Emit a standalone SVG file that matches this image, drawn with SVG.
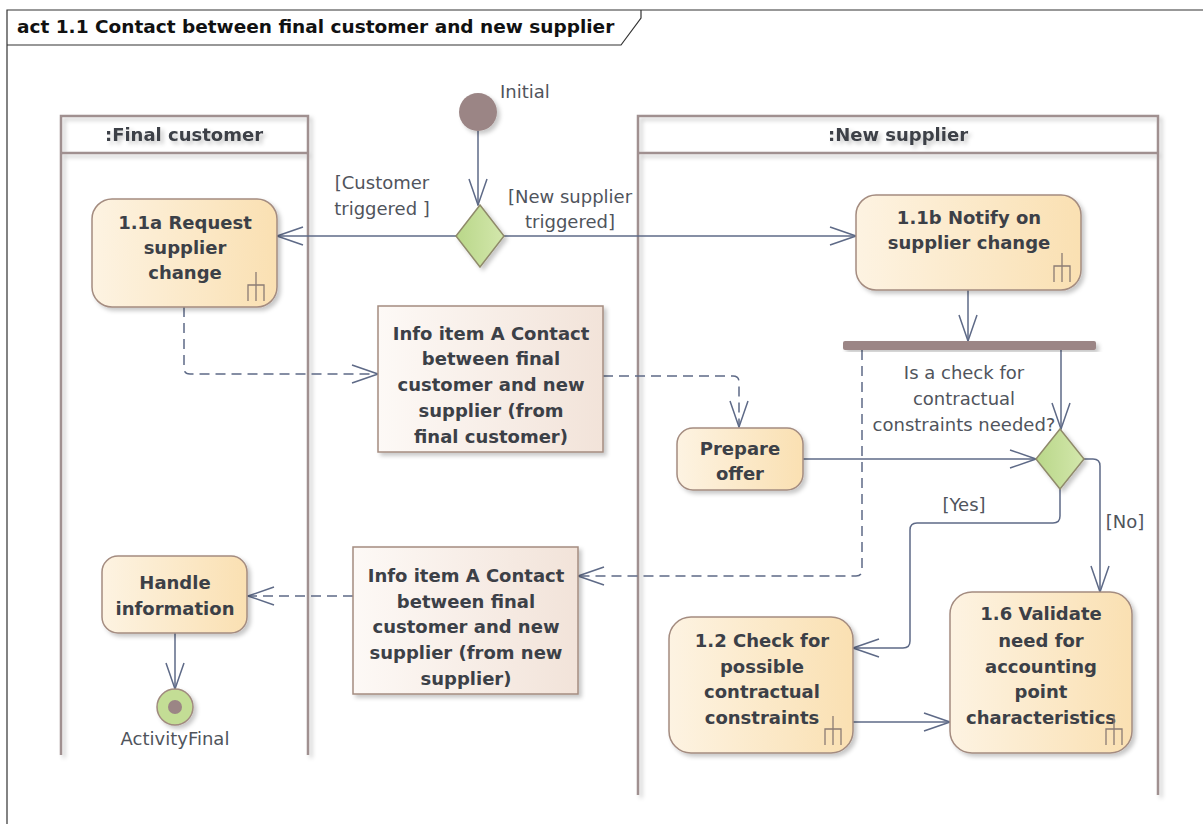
<svg xmlns="http://www.w3.org/2000/svg" width="1203" height="824" viewBox="0 0 1203 824">
<style>
.frame{fill:none;stroke:#333;stroke-width:1.2}
.lane{fill:none;stroke:#A09090;stroke-width:2.5}
.act{fill:url(#gAct);stroke:#A48C80;stroke-width:1.5}
.obj{fill:url(#gObj);stroke:#A48C80;stroke-width:1.5}
.dec{fill:url(#gDec);stroke:#8F8A6A;stroke-width:1.5}
.b{font-family:"DejaVu Sans",sans-serif;font-weight:bold;font-size:18px;fill:#3C4047;text-anchor:middle}
.l{font-family:"DejaVu Sans",sans-serif;font-size:18px;fill:#50545C;text-anchor:middle}
.c{fill:none;stroke:#5E6A87;stroke-width:1.5}
.d{stroke-dasharray:10 6}
.rake{fill:none;stroke:#8C7C74;stroke-width:1.3}
</style>
<defs>
<linearGradient id="gAct" x1="0" y1="0" x2="1" y2="0"><stop offset="0" stop-color="#FDF3E2"/><stop offset="1" stop-color="#FAE0B2"/></linearGradient>
<linearGradient id="gObj" x1="0" y1="0" x2="1" y2="0"><stop offset="0" stop-color="#FDF9F6"/><stop offset="1" stop-color="#F2E3D9"/></linearGradient>
<linearGradient id="gDec" x1="0" y1="0" x2="1" y2="0"><stop offset="0" stop-color="#B9D789"/><stop offset="1" stop-color="#D3E7AC"/></linearGradient>
<filter id="sh" x="-10%" y="-10%" width="130%" height="130%"><feDropShadow dx="3" dy="3" stdDeviation="2" flood-color="#000" flood-opacity="0.22"/></filter>
<marker id="ar" viewBox="0 0 28 20" refX="27" refY="10" markerWidth="28" markerHeight="20" markerUnits="userSpaceOnUse" orient="auto"><path d="M1,1 L27,10 L1,19" fill="none" stroke="#5E6A87" stroke-width="1.5"/></marker>
<g id="rk"><path d="M0,0 V29 M-8,29 V13 H8 V29"/></g>
</defs>

<path class="frame" d="M7,824 V10 H1203"/>
<path class="frame" d="M7,45 H621 L641,18 V10"/>
<text x="17" y="33" font-family="DejaVu Sans,sans-serif" font-weight="bold" font-size="18.5" fill="#111">act 1.1 Contact between final customer and new supplier</text>

<g id="lane-final-customer" filter="url(#sh)">
<path class="lane" d="M61,755 V116 H308 V755 M61,153 H308"/>
<text class="b" x="184" y="141">:Final customer</text>
</g>
<g id="lane-new-supplier" filter="url(#sh)">
<path class="lane" d="M638,795 V116 H1158 V795 M638,153 H1158"/>
<text class="b" x="898" y="141">:New supplier</text>
</g>

<g id="connectors">
<path class="c" marker-end="url(#ar)" d="M478,131 V205"/>
<path class="c" marker-end="url(#ar)" d="M456,236 H277"/>
<path class="c" marker-end="url(#ar)" d="M504,236 H856"/>
<path class="c" marker-end="url(#ar)" d="M968,290 V341"/>
<path class="c" marker-end="url(#ar)" d="M1061,350 V429"/>
<path class="c d" marker-end="url(#ar)" d="M862,350 V570 Q862,576 856,576 H578"/>
<path class="c d" marker-end="url(#ar)" d="M184,307 V368 Q184,374 190,374 H378"/>
<path class="c d" marker-end="url(#ar)" d="M603,376 H733 Q739,376 739,382 V427"/>
<path class="c" marker-end="url(#ar)" d="M803,459 H1036"/>
<path class="c" marker-end="url(#ar)" d="M1060,489 V516 Q1060,523 1053,523 H917 Q910,523 910,530 V641 Q910,648 903,648 H853"/>
<path class="c" marker-end="url(#ar)" d="M1084,459 H1093 Q1100,459 1100,466 V592"/>
<path class="c" marker-end="url(#ar)" d="M853,722 H950"/>
<path class="c d" marker-end="url(#ar)" d="M353,596 H248"/>
<path class="c" marker-end="url(#ar)" d="M175,633 V689"/>
<text class="l" x="382" y="189">[Customer</text>
<text class="l" x="382" y="215">triggered ]</text>
<text class="l" x="570" y="203">[New supplier</text>
<text class="l" x="570" y="228">triggered]</text>
<text class="l" x="964" y="379">Is a check for</text>
<text class="l" x="964" y="405">contractual</text>
<text class="l" x="964" y="431">constraints needed?</text>
<text class="l" x="964" y="511">[Yes]</text>
<text class="l" x="1125" y="528">[No]</text>
</g>

<g id="initial">
<circle cx="478" cy="112" r="19" fill="#9B8585" filter="url(#sh)"/>
<text class="l" x="500" y="98" style="text-anchor:start">Initial</text>
</g>

<g id="decision1"><path class="dec" filter="url(#sh)" d="M480,205 L504,236 L480,267 L456,236 Z"/></g>
<g id="decision2"><path class="dec" filter="url(#sh)" d="M1060,429 L1084,459 L1060,489 L1036,459 Z"/></g>

<g id="fork"><rect x="843" y="341" width="253" height="9" rx="2" fill="#9B8585" filter="url(#sh)"/></g>

<g id="act-1-1a">
<rect class="act" filter="url(#sh)" x="92" y="199" width="185" height="108" rx="20"/>
<text class="b" x="185" y="229">1.1a Request</text>
<text class="b" x="185" y="254">supplier</text>
<text class="b" x="185" y="279">change</text>
<use href="#rk" class="rake" x="256" y="272"/>
</g>

<g id="act-1-1b">
<rect class="act" filter="url(#sh)" x="856" y="195" width="225" height="95" rx="20"/>
<text class="b" x="969" y="224">1.1b Notify on</text>
<text class="b" x="969" y="249">supplier change</text>
<use href="#rk" class="rake" x="1062" y="253"/>
</g>

<g id="info-a">
<rect class="obj" filter="url(#sh)" x="378" y="306" width="225" height="146"/>
<text class="b" x="491" y="340">Info item A Contact</text>
<text class="b" x="491" y="365">between final</text>
<text class="b" x="491" y="391">customer and new</text>
<text class="b" x="491" y="417">supplier (from</text>
<text class="b" x="491" y="443">final customer)</text>
</g>

<g id="prepare-offer">
<rect class="act" filter="url(#sh)" x="677" y="428" width="126" height="62" rx="16"/>
<text class="b" x="740" y="455">Prepare</text>
<text class="b" x="740" y="480">offer</text>
</g>

<g id="info-b">
<rect class="obj" filter="url(#sh)" x="353" y="547" width="225" height="147"/>
<text class="b" x="466" y="582">Info item A Contact</text>
<text class="b" x="466" y="608">between final</text>
<text class="b" x="466" y="633">customer and new</text>
<text class="b" x="466" y="659">supplier (from new</text>
<text class="b" x="466" y="685">supplier)</text>
</g>

<g id="handle-information">
<rect class="act" filter="url(#sh)" x="102" y="556" width="145" height="77" rx="16"/>
<text class="b" x="175" y="589">Handle</text>
<text class="b" x="175" y="615">information</text>
</g>

<g id="activity-final">
<circle cx="175" cy="707" r="18" fill="#C3DD95" stroke="#A08A7F" stroke-width="1.5" filter="url(#sh)"/>
<circle cx="175" cy="707" r="7" fill="#9B8585"/>
<text class="l" x="175" y="745">ActivityFinal</text>
</g>

<g id="act-1-2">
<rect class="act" filter="url(#sh)" x="669" y="617" width="184" height="136" rx="22"/>
<text class="b" x="762" y="647">1.2 Check for</text>
<text class="b" x="762" y="673">possible</text>
<text class="b" x="762" y="698">contractual</text>
<text class="b" x="762" y="724">constraints</text>
<use href="#rk" class="rake" x="833" y="716"/>
</g>

<g id="act-1-6">
<rect class="act" filter="url(#sh)" x="950" y="592" width="182" height="161" rx="22"/>
<text class="b" x="1041" y="620">1.6 Validate</text>
<text class="b" x="1041" y="647">need for</text>
<text class="b" x="1041" y="673">accounting</text>
<text class="b" x="1041" y="698">point</text>
<text class="b" x="1041" y="724">characteristics</text>
<use href="#rk" class="rake" x="1114" y="716"/>
</g>
</svg>
